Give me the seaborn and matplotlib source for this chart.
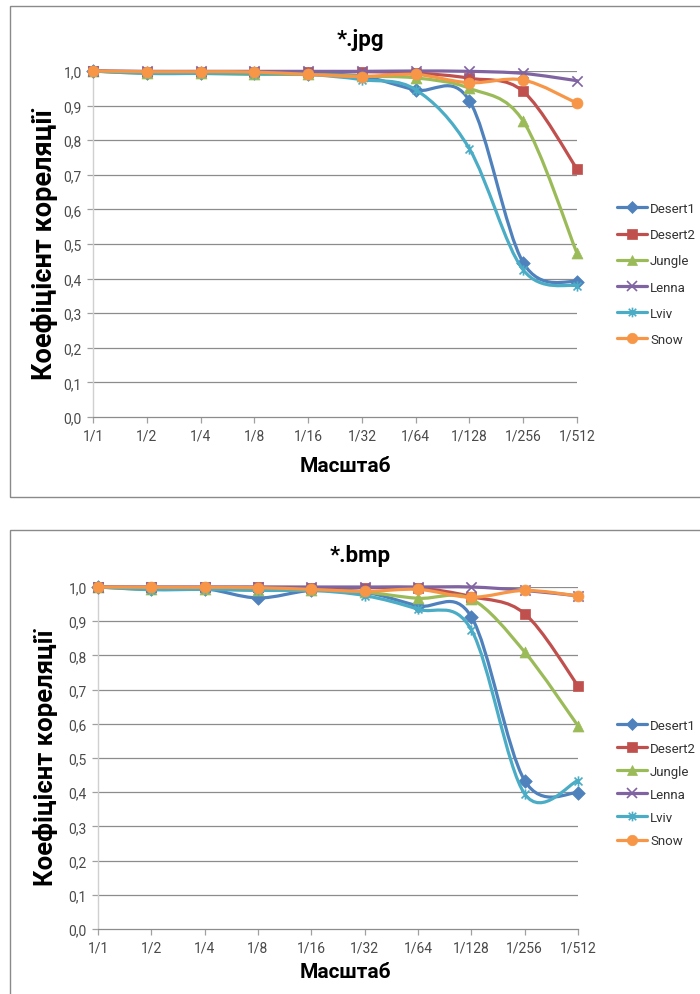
import numpy as np
import pandas as pd
import matplotlib
matplotlib.use("Agg")
import matplotlib.pyplot as plt
import seaborn as sns
from matplotlib.path import Path
from matplotlib.patches import PathPatch, Rectangle
from matplotlib.lines import Line2D

# ---------------- data ----------------
scales = ["1/1", "1/2", "1/4", "1/8", "1/16", "1/32", "1/64", "1/128", "1/256", "1/512"]
series_names = ["Desert1", "Desert2", "Jungle", "Lenna", "Lviv", "Snow"]

jpg_desert1 = [1.0, 0.995, 0.995, 0.993, 0.990, 0.985, 0.945, 0.914, 0.446, 0.390]
jpg_desert2 = [1.0, 0.998, 0.998, 0.998, 0.998, 0.998, 0.994, 0.979, 0.941, 0.717]
jpg_jungle = [1.0, 0.993, 0.993, 0.990, 0.990, 0.985, 0.980, 0.950, 0.855, 0.473]
jpg_lenna = [1.0, 0.999, 0.999, 0.999, 0.999, 0.999, 1.0, 0.999, 0.993, 0.972]
jpg_lviv = [1.0, 0.993, 0.993, 0.992, 0.990, 0.975, 0.946, 0.775, 0.425, 0.379]
jpg_snow = [1.0, 0.998, 0.998, 0.997, 0.990, 0.984, 0.990, 0.966, 0.974, 0.907]

bmp_desert1 = [1.0, 0.995, 0.995, 0.968, 0.990, 0.985, 0.945, 0.913, 0.434, 0.398]
bmp_desert2 = [1.0, 0.999, 0.999, 0.999, 0.998, 0.998, 0.997, 0.972, 0.922, 0.711]
bmp_jungle = [1.0, 0.993, 0.995, 0.990, 0.990, 0.985, 0.967, 0.965, 0.810, 0.594]
bmp_lenna = [1.0, 1.0, 1.0, 1.0, 1.0, 1.0, 1.0, 1.0, 0.990, 0.974]
bmp_lviv = [1.0, 0.992, 0.993, 0.990, 0.990, 0.975, 0.935, 0.875, 0.395, 0.434]
bmp_snow = [1.0, 0.999, 0.999, 0.998, 0.993, 0.987, 0.993, 0.970, 0.990, 0.974]

y_ticks = [0.0, 0.1, 0.2, 0.3, 0.4, 0.5, 0.6, 0.7, 0.8, 0.9, 1.0]
y_tick_labels = ["0,0", "0,1", "0,2", "0,3", "0,4", "0,5", "0,6", "0,7", "0,8", "0,9", "1,0"]

titles = ["*.jpg", "*.bmp"]
x_label = "Масштаб"
y_label = "Коефіцієнт кореляції"

# ---------------- style ----------------
sns.set_theme(style="white")
plt.rcParams["font.family"] = ["Roboto", "DejaVu Sans"]

colors = {"Desert1": "#4F81BD", "Desert2": "#C0504D", "Jungle": "#9BBB59",
          "Lenna": "#8064A2", "Lviv": "#4BACC6", "Snow": "#F79646"}

star_path = Path([(-1, -1), (1, 1), (-1, 1), (1, -1), (0, -1.3), (0, 1.3)],
                 [Path.MOVETO, Path.LINETO, Path.MOVETO, Path.LINETO, Path.MOVETO, Path.LINETO])
markers = {"Desert1": "D", "Desert2": "s", "Jungle": "^", "Lenna": "x", "Lviv": star_path, "Snow": "o"}
msizes = {"Desert1": 48, "Desert2": 55, "Jungle": 62, "Lenna": 55, "Lviv": 55, "Snow": 62}
lsizes = {"Desert1": 6, "Desert2": 7, "Jungle": 7.5, "Lenna": 7, "Lviv": 7, "Snow": 7.5}

tick_color = "#4A4A4A"
grid_color = "#8C8C8C"


def smooth_path(xs, ys):
    pts = list(zip(xs, ys))
    n = len(pts)
    verts = [pts[0]]
    codes = [Path.MOVETO]
    for i in range(n - 1):
        p0 = pts[i - 1] if i > 0 else pts[i]
        p1 = pts[i]
        p2 = pts[i + 1]
        p3 = pts[i + 2] if i + 2 < n else pts[i + 1]
        c1 = (p1[0] + (p2[0] - p0[0]) / 6.0, p1[1] + (p2[1] - p0[1]) / 6.0)
        c2 = (p2[0] - (p3[0] - p1[0]) / 6.0, p2[1] - (p3[1] - p1[1]) / 6.0)
        verts += [c1, c2, p2]
        codes += [Path.CURVE4] * 3
    return Path(verts, codes)


W, H = 700, 995
fig = plt.figure(figsize=(W / 100, H / 100), dpi=100)
fig.patch.set_facecolor("white")

# chart frames
fig.add_artist(Rectangle((10 / W, 1 - 498 / H), 1.0, 491 / H, transform=fig.transFigure,
                         fill=False, edgecolor="#8A8A8A", lw=1.0))
fig.add_artist(Rectangle((10 / W, -0.05), 1.0, 0.05 + 1 - 531 / H, transform=fig.transFigure,
                         fill=False, edgecolor="#8A8A8A", lw=1.0))

charts = [
    dict(data=[jpg_desert1, jpg_desert2, jpg_jungle, jpg_lenna, jpg_lviv, jpg_snow],
         px=(93, 577, 72, 418), title_y=40, xlab_y=467, ylab_x=45, ylab_y=245, ylab_fs=19.5,
         leg=(617, 203), legspace=1.0),
    dict(data=[bmp_desert1, bmp_desert2, bmp_jungle, bmp_lenna, bmp_lviv, bmp_snow],
         px=(98, 578, 588, 930), title_y=556, xlab_y=972, ylab_x=46, ylab_y=758, ylab_fs=18.5,
         leg=(617, 720), legspace=0.76),
]

for ci, ch in enumerate(charts):
    x0, x1, ytop, ybot = ch["px"]
    ax = fig.add_axes([x0 / W, 1 - ybot / H, (x1 - x0) / W, (ybot - ytop) / H])
    ax.set_facecolor("none")

    rows = []
    for name, vals in zip(series_names, ch["data"]):
        for i, v in enumerate(vals):
            rows.append(dict(series=name, idx=i, scale=scales[i], value=v))
    df = pd.DataFrame(rows)

    for k, name in enumerate(series_names):
        sub = df[df["series"] == name]
        c = colors[name]
        patch = PathPatch(smooth_path(sub["idx"].values, sub["value"].values),
                          fill=False, edgecolor=c, lw=2.3, transform=ax.transData,
                          clip_on=False, zorder=3 + 2 * k, capstyle="round", joinstyle="round")
        ax.add_patch(patch)
        lw = 1.2 if name in ("Lenna", "Lviv") else 0.5
        sns.scatterplot(data=sub, x="idx", y="value", ax=ax, marker=markers[name],
                        s=msizes[name], color=c, edgecolor=c, linewidth=lw,
                        zorder=4 + 2 * k, clip_on=False, legend=False)

    ax.set_xlim(0, 9)
    ax.set_ylim(0, 1.0)
    ax.set_xticks(range(len(scales)))
    ax.set_xticklabels(scales)
    ax.set_yticks(y_ticks)
    ax.set_yticklabels(y_tick_labels)
    ax.set_xlabel("")
    ax.set_ylabel("")
    ax.grid(False)
    for yv in y_ticks[1:]:
        ax.axhline(yv, color=grid_color, lw=0.9, zorder=1)
    for s in ["top", "right"]:
        ax.spines[s].set_visible(False)
    ax.spines["left"].set_color("#D0D0D0")
    ax.spines["left"].set_linewidth(1.0)
    ax.spines["bottom"].set_color(grid_color)
    ax.spines["bottom"].set_linewidth(0.9)
    ax.tick_params(axis="both", which="major", labelsize=10, labelcolor=tick_color,
                   color="#A0A0A0", length=4, width=0.9, direction="out", pad=4,
                   bottom=True, left=True)

    fig.text(360 / W, 1 - ch["title_y"] / H, titles[ci], ha="center", va="center",
             fontsize=16, fontweight="bold", color="black")
    fig.text(345 / W, 1 - ch["xlab_y"] / H, x_label, ha="center", va="center",
             fontsize=15, fontweight="bold", color="black")
    fig.text(ch["ylab_x"] / W, 1 - ch["ylab_y"] / H, y_label, ha="center", va="center",
             rotation=90, fontsize=ch["ylab_fs"], fontweight="bold", color="black")

    handles = [Line2D([], [], color=colors[n], lw=2.3, marker=markers[n],
                      markersize=lsizes[n], markerfacecolor=colors[n], markeredgecolor=colors[n],
                      markeredgewidth=1.2 if n in ("Lenna", "Lviv") else 0.5)
               for n in series_names]
    lx, ly = ch["leg"]
    fig.legend(handles, series_names, loc="upper left", bbox_to_anchor=(lx / W, 1 - ly / H),
               bbox_transform=fig.transFigure, frameon=False, fontsize=9.5,
               labelcolor="#333333", handlelength=2.3, handletextpad=0.2,
               labelspacing=ch["legspace"], borderpad=0, borderaxespad=0)

fig.savefig("out.png", dpi=100)
